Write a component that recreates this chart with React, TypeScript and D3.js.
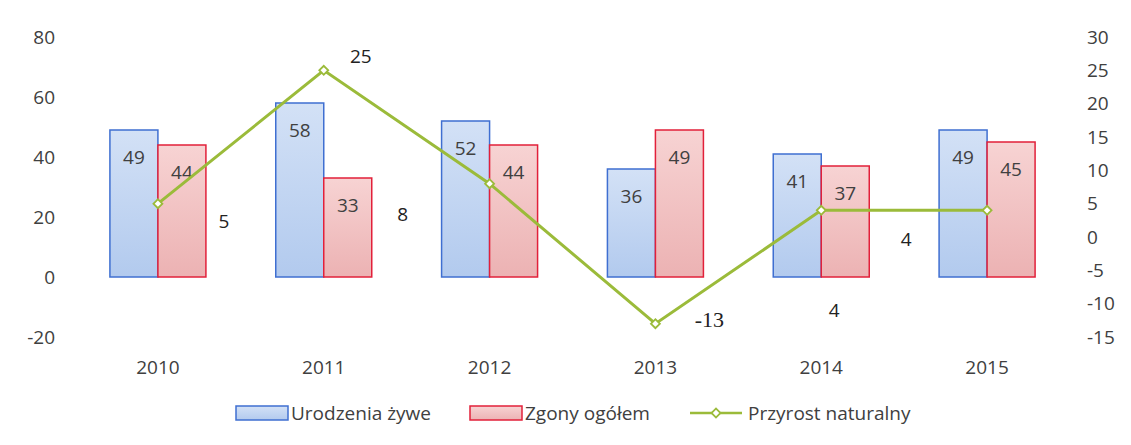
import React, { useEffect, useRef } from 'react';
import * as d3 from 'd3';

const years = ['2010', '2011', '2012', '2013', '2014', '2015'];
const births = [49, 58, 52, 36, 41, 49];
const deaths = [44, 33, 44, 49, 37, 45];
const growth = [5, 25, 8, -13, 4, 4];
const leftTicks = [-20, 0, 20, 40, 60, 80];
const rightTicks = [-15, -10, -5, 0, 5, 10, 15, 20, 25, 30];

// where the line labels ended up in the original (offset from the point)
const growthLabelOffsets = [[66, 18], [37, -14], [-87, 31], [54, -4], [13, 100], [-81, 29]];

function App() {
  return (
    <div>
      <Chart />
    </div>
  );
}

function Chart() {
  const ref = useRef<HTMLDivElement>(null);

  useEffect(() => {
    if (!ref.current) return;
    const width = 1131;
    const height = 445;
    d3.select(ref.current).select('svg').remove();

    const svg = d3.select(ref.current)
      .append('svg')
      .attr('width', width)
      .attr('height', height)
      .style('position', 'absolute')
      .style('left', 0)
      .style('top', 0)
      .style('background', '#fff')
      .style('font-family', '"Open Sans", "Noto Sans", sans-serif');

    const defs = svg.append('defs');
    const blueGrad = defs.append('linearGradient').attr('id', 'blueGrad').attr('x1', 0).attr('x2', 0).attr('y1', 0).attr('y2', 1);
    blueGrad.append('stop').attr('offset', '0%').attr('stop-color', '#d3e1f6');
    blueGrad.append('stop').attr('offset', '100%').attr('stop-color', '#b2caee');
    const redGrad = defs.append('linearGradient').attr('id', 'redGrad').attr('x1', 0).attr('x2', 0).attr('y1', 0).attr('y2', 1);
    redGrad.append('stop').attr('offset', '0%').attr('stop-color', '#f7d3d3');
    redGrad.append('stop').attr('offset', '100%').attr('stop-color', '#ecb2b3');

    const x = d3.scaleBand().domain(years).range([75, 1070]);
    const yL = d3.scaleLinear().domain([-20, 80]).range([337, 37]);
    const yR = d3.scaleLinear().domain([-15, 30]).range([337, 37]);
    const barW = 48;
    const textColor = '#404040';

    // left axis labels
    svg.append('g').selectAll('text').data(leftTicks).join('text')
      .attr('x', 55)
      .attr('y', d => yL(d))
      .attr('dy', '0.35em')
      .attr('text-anchor', 'end')
      .attr('font-size', 19)
      .attr('fill', textColor)
      .text(d => d);

    // right axis labels
    svg.append('g').selectAll('text').data(rightTicks).join('text')
      .attr('x', 1087)
      .attr('y', d => yR(d))
      .attr('dy', '0.35em')
      .attr('text-anchor', 'start')
      .attr('font-size', 19)
      .attr('fill', textColor)
      .text(d => d);

    // year labels
    svg.append('g').selectAll('text').data(years).join('text')
      .attr('x', d => x(d)! + x.bandwidth() / 2)
      .attr('y', 367)
      .attr('dy', '0.35em')
      .attr('text-anchor', 'middle')
      .attr('font-size', 19)
      .attr('fill', textColor)
      .text(d => d);

    const cx = (i: number) => x(years[i])! + x.bandwidth() / 2;

    // bars
    const series = [
      { values: births, fill: 'url(#blueGrad)', stroke: '#3f6fd1', shift: -barW },
      { values: deaths, fill: 'url(#redGrad)', stroke: '#e2203a', shift: 0 },
    ];
    series.forEach(s => {
      svg.append('g').selectAll('rect').data(s.values).join('rect')
        .attr('x', (d, i) => cx(i) + s.shift)
        .attr('y', d => yL(d))
        .attr('width', barW)
        .attr('height', d => yL(0) - yL(d))
        .attr('fill', s.fill)
        .attr('stroke', s.stroke)
        .attr('stroke-width', 1.5);
      svg.append('g').selectAll('text').data(s.values).join('text')
        .attr('x', (d, i) => cx(i) + s.shift + barW / 2)
        .attr('y', d => yL(d) + 27)
        .attr('dy', '0.35em')
        .attr('text-anchor', 'middle')
        .attr('font-size', 19)
        .attr('fill', textColor)
        .text(d => d);
    });

    // growth line
    const line = d3.line<number>()
      .x((d, i) => cx(i))
      .y(d => yR(d));
    svg.append('path')
      .datum(growth)
      .attr('d', line)
      .attr('fill', 'none')
      .attr('stroke', '#9bbb3a')
      .attr('stroke-width', 3);

    // square marker turned 45deg, like Excel's diamond
    const marker = d3.symbol().type(d3.symbolSquare).size(40);
    svg.append('g').selectAll('path').data(growth).join('path')
      .attr('d', marker)
      .attr('transform', (d, i) => `translate(${cx(i)},${yR(d)}) rotate(45)`)
      .attr('fill', '#fff')
      .attr('stroke', '#9bbb3a')
      .attr('stroke-width', 1.8);

    svg.append('g').selectAll('text').data(growth).join('text')
      .attr('x', (d, i) => cx(i) + growthLabelOffsets[i][0])
      .attr('y', (d, i) => yR(d) + growthLabelOffsets[i][1])
      .attr('dy', '0.35em')
      .attr('text-anchor', 'middle')
      .attr('font-size', (d, i) => i === 3 ? 22 : 19)
      .attr('fill', '#222')
      .style('font-family', (d, i) => i === 3 ? '"Liberation Serif", serif' : null)
      .text(d => d);

    // legend
    const legend = svg.append('g').attr('font-size', 19).attr('fill', textColor);
    legend.append('rect').attr('x', 236).attr('y', 406).attr('width', 52).attr('height', 14)
      .attr('fill', 'url(#blueGrad)').attr('stroke', '#3f6fd1').attr('stroke-width', 1.5);
    legend.append('text').attr('x', 291).attr('y', 413).attr('dy', '0.35em').text('Urodzenia żywe');
    legend.append('rect').attr('x', 470).attr('y', 406).attr('width', 52).attr('height', 14)
      .attr('fill', 'url(#redGrad)').attr('stroke', '#e2203a').attr('stroke-width', 1.5);
    legend.append('text').attr('x', 525).attr('y', 413).attr('dy', '0.35em').text('Zgony ogółem');
    legend.append('line').attr('x1', 690).attr('x2', 742).attr('y1', 413).attr('y2', 413)
      .attr('stroke', '#9bbb3a').attr('stroke-width', 2.5);
    legend.append('path').attr('d', marker).attr('transform', 'translate(716,413) rotate(45)')
      .attr('fill', '#fff').attr('stroke', '#9bbb3a').attr('stroke-width', 1.8);
    legend.append('text').attr('x', 748).attr('y', 413).attr('dy', '0.35em').text('Przyrost naturalny');
  }, []);

  return <div ref={ref} />;
}

export default App;
